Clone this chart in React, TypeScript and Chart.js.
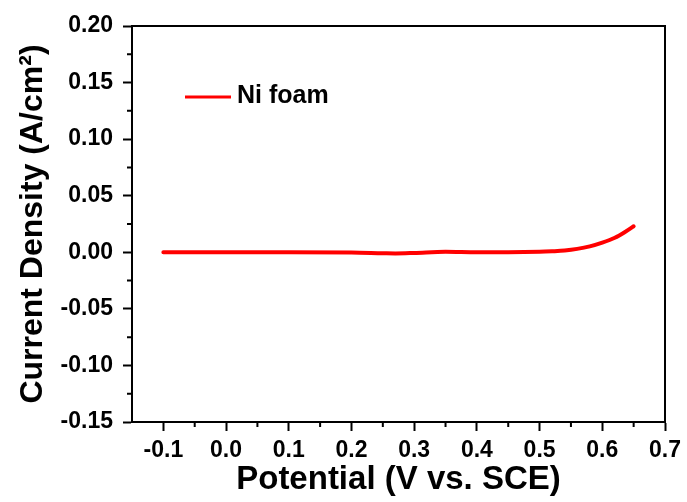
import React, { useEffect, useRef } from 'react';
import { Chart, registerables } from 'chart.js';

Chart.register(...registerables);

const seriesName = 'Ni foam';
const potential = [-0.1, 0.0, 0.1, 0.2, 0.25, 0.27, 0.3, 0.35, 0.4, 0.45, 0.5, 0.52, 0.54, 0.56, 0.58, 0.6, 0.62, 0.635, 0.65];
const currentDensity = [0, 0, 0, -0.0002, -0.0008, -0.001, -0.0006, 0.0004, 0, 0, 0.0004, 0.0009, 0.0016, 0.0030, 0.0052, 0.0085, 0.0128, 0.0175, 0.023];

const xMajorTicks = [-0.1, 0.0, 0.1, 0.2, 0.3, 0.4, 0.5, 0.6, 0.7];
const xMinorTicks = [-0.05, 0.05, 0.15, 0.25, 0.35, 0.45, 0.55, 0.65];
const yMajorTicks = [-0.15, -0.1, -0.05, 0.0, 0.05, 0.1, 0.15, 0.2];
const yMinorTicks = [-0.125, -0.075, -0.025, 0.025, 0.075, 0.125, 0.175];

const xTitle = 'Potential (V vs. SCE)';
const yTitle = 'Current Density (A/cm²)';

const FONT = '"Liberation Sans", Arial, sans-serif';
const RED = '#ff0000';

const framePlugin = {
  id: 'frameAndMinor',
  afterDraw(chart: any) {
    const { ctx, chartArea } = chart;
    const xs = chart.scales.x;
    const ys = chart.scales.y;
    ctx.save();
    ctx.strokeStyle = '#000';
    ctx.lineWidth = 2;
    ctx.beginPath();
    xMinorTicks.forEach((v) => {
      const px = xs.getPixelForValue(v);
      ctx.moveTo(px, chartArea.bottom);
      ctx.lineTo(px, chartArea.bottom + 5);
    });
    yMinorTicks.forEach((v) => {
      const py = ys.getPixelForValue(v);
      ctx.moveTo(chartArea.left, py);
      ctx.lineTo(chartArea.left - 5, py);
    });
    ctx.stroke();
    ctx.strokeRect(chartArea.left, chartArea.top, chartArea.right - chartArea.left, chartArea.bottom - chartArea.top);
    const lx = chartArea.left + 53;
    const ly = chartArea.top + 71;
    ctx.strokeStyle = RED;
    ctx.lineWidth = 3;
    ctx.beginPath();
    ctx.moveTo(lx, ly);
    ctx.lineTo(lx + 46, ly);
    ctx.stroke();
    ctx.fillStyle = '#000';
    ctx.font = `bold 25px ${FONT}`;
    ctx.textAlign = 'left';
    ctx.textBaseline = 'middle';
    ctx.fillText(seriesName, lx + 52, ly - 1);
    ctx.restore();
  },
};

export default function App() {
  const ref = useRef<HTMLCanvasElement>(null);
  useEffect(() => {
    if (!ref.current) return;
    const chart = new Chart(ref.current, {
      type: 'scatter',
      data: {
        datasets: [
          {
            label: seriesName,
            data: potential.map((x, i) => ({ x, y: currentDensity[i] })),
            showLine: true,
            borderColor: RED,
            backgroundColor: RED,
            borderWidth: 4,
            pointRadius: 0,
            cubicInterpolationMode: 'monotone',
            borderCapStyle: 'round',
            borderJoinStyle: 'round',
          },
        ],
      },
      options: {
        animation: false,
        responsive: false,
        layout: { padding: { top: 26, right: 22, left: 0, bottom: 0 } },
        plugins: { legend: { display: false }, tooltip: { enabled: false } },
        scales: {
          x: {
            type: 'linear',
            min: -0.15,
            max: 0.7,
            afterBuildTicks: (s: any) => {
              s.ticks = xMajorTicks.map((v) => ({ value: v }));
            },
            afterFit: (s: any) => {
              s.height = 80;
            },
            border: { display: true, color: '#000', width: 2 },
            grid: { display: true, drawOnChartArea: false, drawTicks: true, tickLength: 9, tickWidth: 2, tickColor: '#000' },
            ticks: {
              color: '#000',
              font: { family: FONT, size: 23, weight: 'bold' },
              padding: 6,
              maxRotation: 0,
              autoSkip: false,
              callback: (v: any) => Number(v).toFixed(1),
            },
            title: {
              display: true,
              text: xTitle,
              color: '#000',
              font: { family: FONT, size: 33, weight: 'bold' },
              padding: { top: 0, bottom: 2 },
            },
          },
          y: {
            type: 'linear',
            min: -0.15,
            max: 0.2,
            afterBuildTicks: (s: any) => {
              s.ticks = yMajorTicks.map((v) => ({ value: v }));
            },
            afterFit: (s: any) => {
              s.width = 132;
            },
            border: { display: true, color: '#000', width: 2 },
            grid: { display: true, drawOnChartArea: false, drawTicks: true, tickLength: 9, tickWidth: 2, tickColor: '#000' },
            ticks: {
              color: '#000',
              font: { family: FONT, size: 23, weight: 'bold' },
              padding: 10,
              autoSkip: false,
              callback: (v: any) => Number(v).toFixed(2),
            },
            title: {
              display: true,
              text: yTitle,
              color: '#000',
              font: { family: FONT, size: 32, weight: 'bold' },
              padding: { top: 14, bottom: 0 },
            },
          },
        },
      } as any,
      plugins: [framePlugin],
    });
    return () => chart.destroy();
  }, []);
  return (
    <div style={{ position: 'fixed', left: 0, top: 0, width: 687, height: 502, background: '#fff' }}>
      <canvas ref={ref} width={687} height={502} />
    </div>
  );
}
